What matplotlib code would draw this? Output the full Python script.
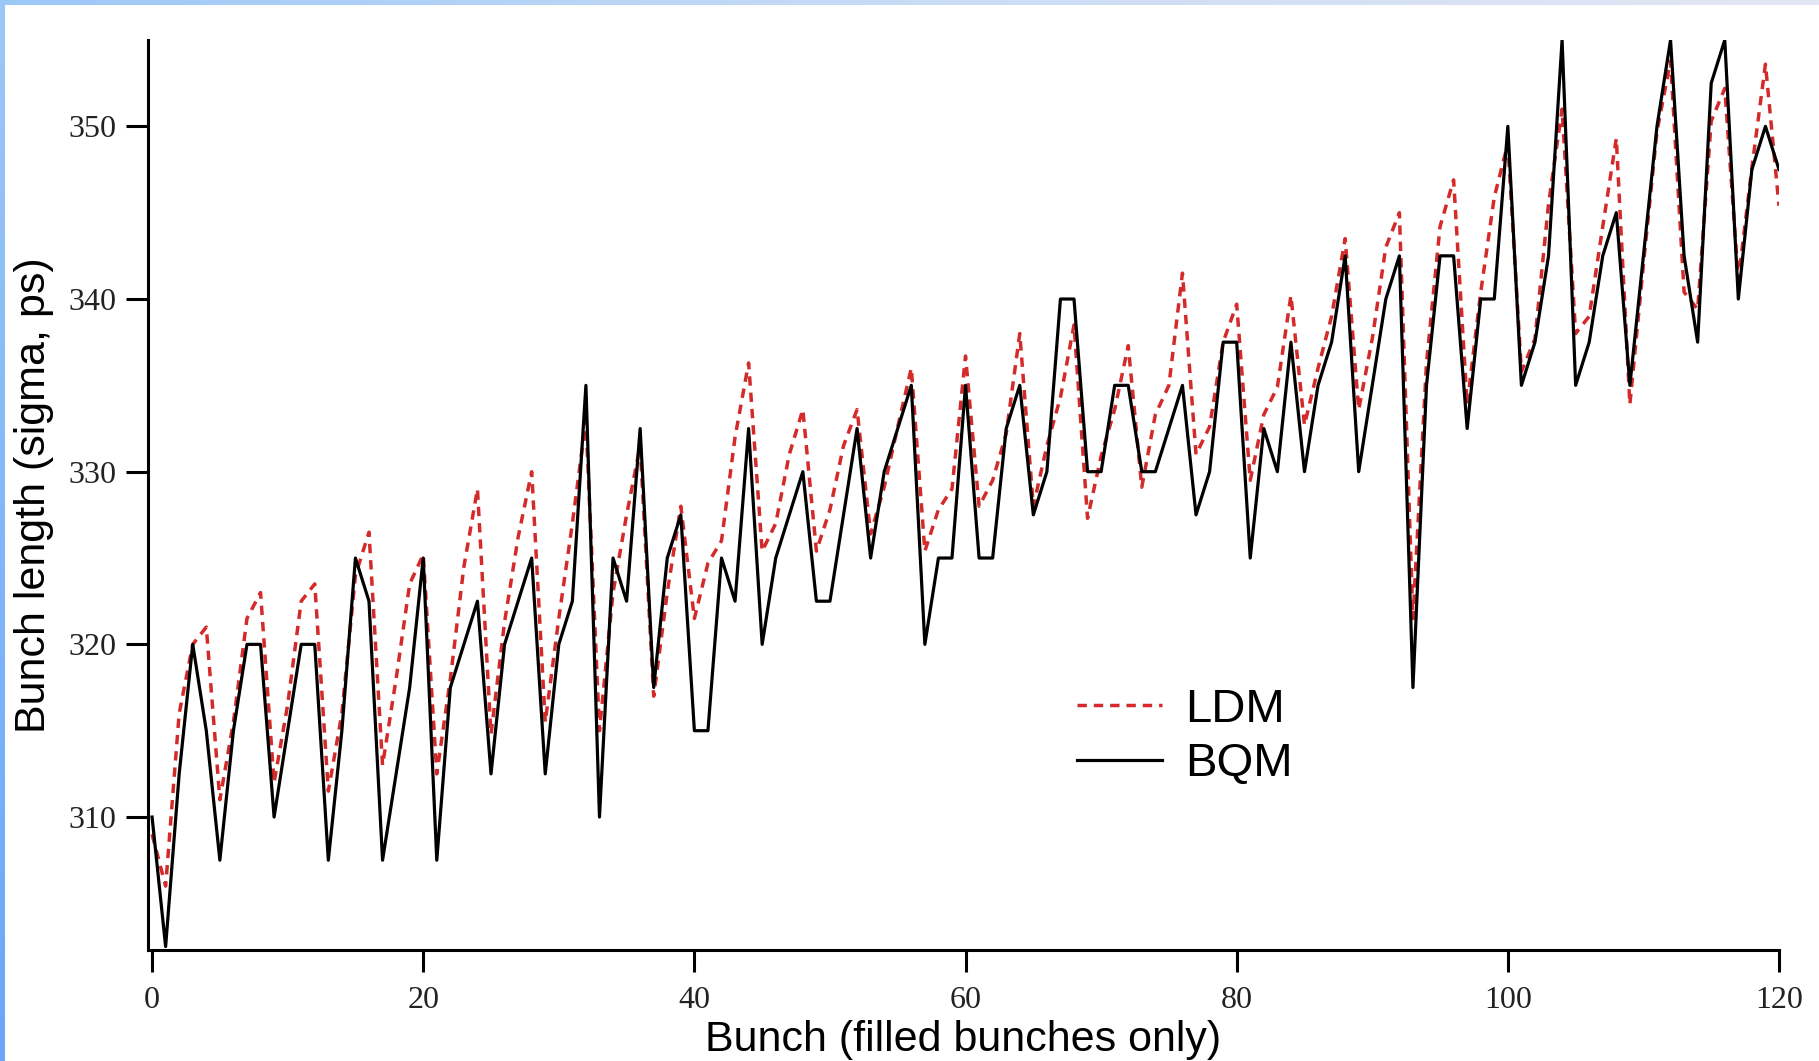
import numpy as np
import matplotlib
matplotlib.use("Agg")
import matplotlib.pyplot as plt
from matplotlib.colors import LinearSegmentedColormap

bunch = list(range(0, 121))

bqm = [310, 302.5, 312.5, 320, 315, 307.5, 315, 320, 320, 310,
       315, 320, 320, 307.5, 315, 325, 322.5, 307.5, 312.5, 317.5,
       325, 307.5, 317.5, 320, 322.5, 312.5, 320, 322.5, 325, 312.5,
       320, 322.5, 335, 310, 325, 322.5, 332.5, 317.5, 325, 327.5,
       315, 315, 325, 322.5, 332.5, 320, 325, 327.5, 330, 322.5,
       322.5, 327.5, 332.5, 325, 330, 332.5, 335, 320, 325, 325,
       335, 325, 325, 332.5, 335, 327.5, 330, 340, 340, 330,
       330, 335, 335, 330, 330, 332.5, 335, 327.5, 330, 337.5,
       337.5, 325, 332.5, 330, 337.5, 330, 335, 337.5, 342.5, 330,
       335, 340, 342.5, 317.5, 335, 342.5, 342.5, 332.5, 340, 340,
       350, 335, 337.5, 342.5, 355, 335, 337.5, 342.5, 345, 335,
       342.5, 350, 355, 342.5, 337.5, 352.5, 355, 340, 347.5, 350,
       347.5]

ldm = [309, 306, 316, 320, 321, 311, 315.5, 321.5, 323, 312,
       316.5, 322.5, 323.5, 311.5, 316, 324, 326.5, 313, 318, 323.5,
       325.2, 312.5, 318, 324.5, 329, 314.8, 321.3, 326.2, 330, 315.5,
       321.5, 327, 333, 315, 323, 327.5, 331.5, 317, 323, 328,
       321.5, 324.7, 326, 332, 336.3, 325.4, 327, 331, 333.6, 325.4,
       327.8, 331.5, 333.6, 326.4, 329.1, 332.6, 336, 325.4, 327.8, 329,
       336.7, 328, 329.5, 332.2, 338, 328, 331.5, 334.3, 338.5, 327.3,
       330.9, 333.6, 337.3, 329.1, 333.3, 335, 341.5, 331, 332.6, 337.5,
       339.7, 329.5, 333.3, 334.9, 340.2, 332.7, 336, 339, 343.5, 333.6,
       337.7, 343, 345, 321.5, 336.3, 344.2, 346.9, 333.9, 340.4, 345.9,
       349, 335.8, 337.7, 345.5, 351, 338, 339, 344.2, 349.3, 333.9,
       342, 349.7, 353.8, 340.4, 339.4, 350.3, 352.2, 341.1, 347.6, 353.6,
       345.4]

xticks = [0, 20, 40, 60, 80, 100, 120]
yticks = [310, 320, 330, 340, 350]

W, H = 1819, 1061
fig = plt.figure(figsize=(W / 100, H / 100), dpi=100)
fig.patch.set_facecolor("white")

# slide border gradients
top_cmap = LinearSegmentedColormap.from_list("t", ["#9cc8f8", "#c9dcf6", "#e4e6f4"])
left_cmap = LinearSegmentedColormap.from_list("l", ["#9cc8f8", "#6aa6fa"])
ax_top = fig.add_axes([0, 1 - 5 / H, 1, 5 / H])
ax_top.imshow(np.linspace(0, 1, 256)[None, :], aspect="auto", cmap=top_cmap)
ax_top.axis("off")
ax_left = fig.add_axes([0, 0, 5 / W, 1])
ax_left.imshow(np.linspace(0, 1, 256)[:, None], aspect="auto", cmap=left_cmap)
ax_left.axis("off")

ax = fig.add_axes([148 / W, 111 / H, (1779 - 148) / W, (950 - 40) / H])
ax.plot(bunch, ldm, color="#d42a2a", lw=2.5, ls=(0, (2.7, 2.0)), label="LDM")
ax.plot(bunch, bqm, color="black", lw=2.3, label="BQM")

ax.set_xlim(-0.3, 120)
ax.set_ylim(302.3, 355)
ax.set_xticks(xticks)
ax.set_yticks(yticks)

for s in ["top", "right"]:
    ax.spines[s].set_visible(False)
for s in ["left", "bottom"]:
    ax.spines[s].set_linewidth(2.2)

serif = ["Liberation Serif", "DejaVu Serif"]
ax.tick_params(axis="both", direction="out", length=16, width=2.2,
               labelsize=23, colors="black")
ax.tick_params(axis="y", pad=7)
ax.tick_params(axis="x", pad=10)
for lab in ax.get_xticklabels() + ax.get_yticklabels():
    lab.set_fontfamily(serif)
    lab.set_color("#222222")

sans = ["Liberation Sans", "DejaVu Sans"]
ax.set_xlabel("Bunch (filled bunches only)", fontsize=31, family=sans)
ax.xaxis.set_label_coords(0.5, -0.077)
ax.set_ylabel("Bunch length (sigma, ps)", fontsize=31, family=sans, labelpad=10)

leg = ax.legend(loc="upper left", bbox_to_anchor=(1053 / W, 1 - 664 / H),
                bbox_transform=fig.transFigure, frameon=False,
                prop={"family": sans, "size": 34}, handlelength=1.8,
                handletextpad=0.5, labelspacing=0.23, borderpad=0.0)

fig.savefig("out.png", dpi=100)
